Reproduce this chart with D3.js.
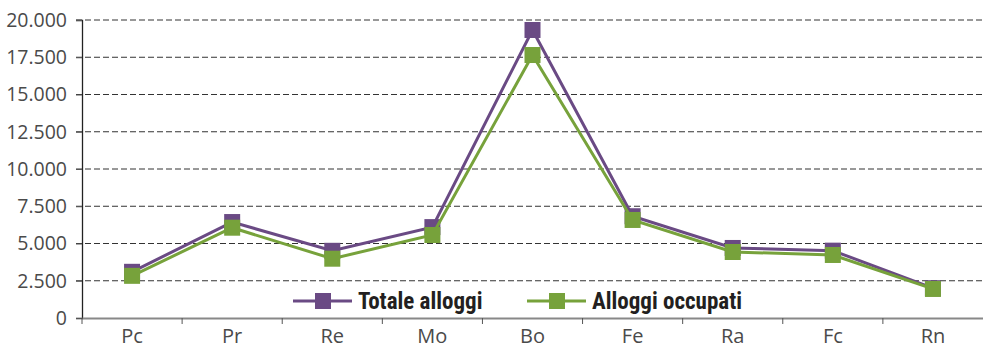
<!DOCTYPE html>
<html><head><meta charset="utf-8">
<script src="https://cdn.jsdelivr.net/npm/d3@7"></script>
<style>
body{margin:0;background:#fff;}
svg{display:block;}
</style></head>
<body>
<svg id="c" width="983" height="347"></svg>
<script>
const categories = ["Pc","Pr","Re","Mo","Bo","Fe","Ra","Fc","Rn"];
const totaleAlloggi = [3100, 6440, 4510, 6100, 19330, 6830, 4700, 4520, 2000];
const alloggiOccupati = [2830, 6060, 3980, 5570, 17650, 6580, 4430, 4230, 1950];
const yTicks = [0, 2500, 5000, 7500, 10000, 12500, 15000, 17500, 20000];
const seriesNames = ["Totale alloggi", "Alloggi occupati"];
const colors = ["#6a4a84", "#77a23b"];

(function(){
const svg = d3.select("#c");
const mL = 82, mR = 983, mT = 20, mB = 318;
const x = d3.scaleBand().domain(categories).range([mL, mR]);
const y = d3.scaleLinear().domain([0, 20000]).range([mB, mT]);
const fmt = v => d3.format(",")(v).replace(/,/g, ".");

// gridlines
svg.append("g").selectAll("line").data(yTicks.filter(d => d > 0)).join("line")
  .attr("x1", mL - 6).attr("x2", mR).attr("y1", d => y(d)).attr("y2", d => y(d))
  .attr("stroke", "#333").attr("stroke-width", 1).attr("stroke-dasharray", "6,3");

// y axis
const ya = svg.append("g").attr("transform", `translate(${mL},0)`)
  .call(d3.axisLeft(y).tickValues(yTicks).tickFormat(fmt).tickSize(6).tickPadding(9));
ya.select(".domain").attr("stroke", "#222").attr("stroke-width", 1.3);
ya.selectAll(".tick line").attr("stroke", "#555");
ya.selectAll("text").attr("font-family", "'Open Sans', sans-serif").attr("font-size", 19.5).attr("fill", "#4a4a4a");

// x axis
const xa = svg.append("g").attr("transform", `translate(0,${mB})`)
  .call(d3.axisBottom(x).tickSize(0));
xa.select(".domain").attr("stroke", "#888").attr("stroke-width", 2);
xa.selectAll("text").attr("font-family", "'Open Sans', sans-serif").attr("font-size", 20).attr("fill", "#4a4a4a").attr("y", 24.5).attr("dy", 0);
svg.append("g").selectAll("line").data(categories).join("line")
  .attr("x1", d => x(d)).attr("x2", d => x(d)).attr("y1", mB).attr("y2", mB + 6)
  .attr("stroke", "#555").attr("stroke-width", 1);

// series
const series = [totaleAlloggi, alloggiOccupati];
const line = d3.line().x((d, i) => x(categories[i]) + x.bandwidth() / 2).y(d => y(d));
series.forEach((s, k) => {
  const g = svg.append("g");
  g.append("path").datum(s).attr("d", line).attr("fill", "none").attr("stroke", colors[k]).attr("stroke-width", 3);
  g.selectAll("rect").data(s).join("rect")
    .attr("x", (d, i) => x(categories[i]) + x.bandwidth() / 2 - 8)
    .attr("y", d => y(d) - 8).attr("width", 16).attr("height", 16).attr("fill", colors[k]);
});

// legend
const legX = [293, 527];
const legY = 301;
series.forEach((s, k) => {
  const g = svg.append("g").attr("transform", `translate(${legX[k]},${legY})`);
  g.append("line").attr("x1", 0).attr("x2", 59).attr("y1", 0).attr("y2", 0).attr("stroke", colors[k]).attr("stroke-width", 3);
  g.append("rect").attr("x", 22).attr("y", -8).attr("width", 16).attr("height", 16).attr("fill", colors[k]);
  g.append("text").attr("x", 65).attr("y", 0).attr("dy", "0.36em")
    .attr("font-family", "'Liberation Sans Narrow', 'Roboto Condensed', Roboto, sans-serif")
    .attr("font-weight", "bold").attr("font-size", 23).attr("fill", "#231f20").text(seriesNames[k]);
});
})();
</script>
</body></html>
